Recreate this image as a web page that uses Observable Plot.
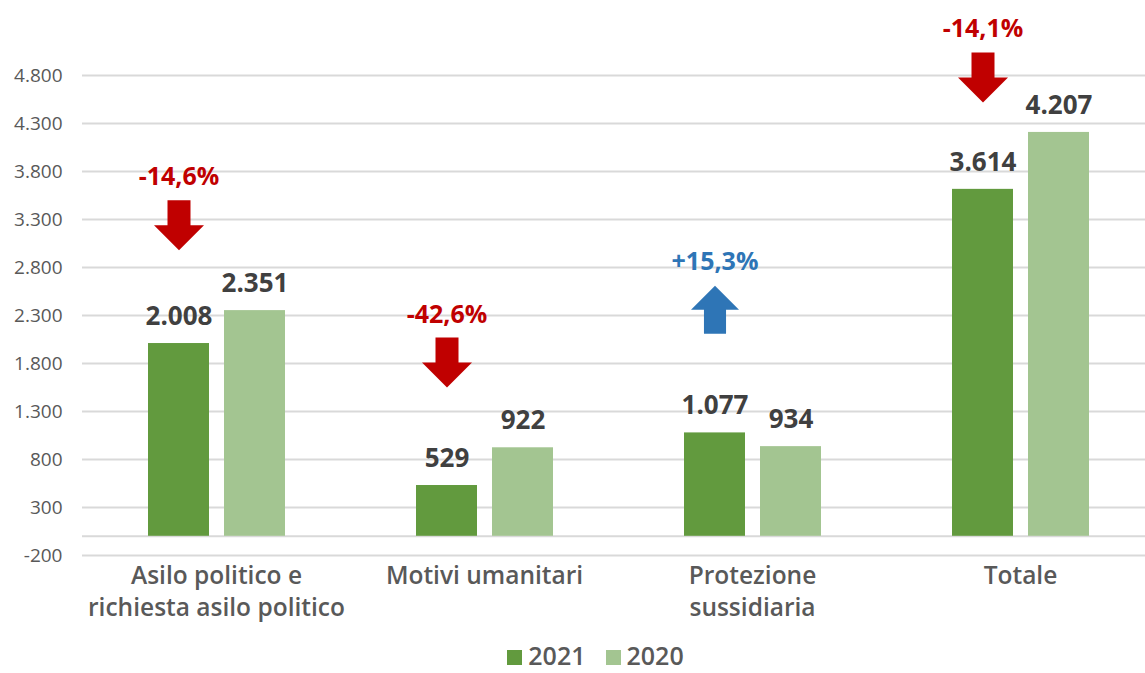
<!DOCTYPE html>
<html>
<head>
<meta charset="utf-8">
<script src="https://cdn.jsdelivr.net/npm/d3@7"></script>
<script src="https://cdn.jsdelivr.net/npm/@observablehq/plot@0.6"></script>
<style>
  html, body { margin: 0; padding: 0; background: #fff; overflow: hidden; }
  #chart svg { display: block; max-width: none !important; height: 632px !important; }
  .legend { display: flex; justify-content: center; align-items: center; gap: 20px;
    padding-left: 46px; padding-top: 6px; height: 34px; line-height: 34px;
    font-family: 'Open Sans', sans-serif; font-size: 25px; font-weight: 600; color: #595959; }
  .legend .item { display: flex; align-items: center; gap: 6px; height: 34px; }
  .legend .sw { width: 15px; height: 15px; display: inline-block; margin-top: 4px; }
</style>
</head>
<body>
<div id="chart"></div>
<script>
// ---- data ----
const categories = ["Asilo politico e\nrichiesta asilo politico", "Motivi umanitari", "Protezione\nsussidiaria", "Totale"];
const years = ["2021", "2020"];
const values2021 = [2008, 529, 1077, 3614];
const values2020 = [2351, 922, 934, 4207];
const yTicks = [-200, 300, 800, 1300, 1800, 2300, 2800, 3300, 3800, 4300, 4800];
const annotY = [3240, 1810, 2360, 4780]; // arrow anchor (value units)
const yearColors = {"2021": "#629A3E", "2020": "#A3C591"};

// ---- derived tables ----
const it = d3.formatLocale({decimal: ",", thousands: ".", grouping: [3], currency: ["€", ""], minus: "-"});
const fmtInt = it.format(",d");
const fmtPct = it.format("+.1f");

const rows = [];
categories.forEach((c, i) => {
  rows.push({category: c, year: "2021", value: values2021[i]});
  rows.push({category: c, year: "2020", value: values2020[i]});
});
const changes = categories.map((c, i) => {
  const pct = (values2021[i] - values2020[i]) / values2020[i] * 100;
  return {category: c, year: "2021", y: annotY[i], pct,
    label: fmtPct(pct) + "%", color: pct < 0 ? "#C00000" : "#2E75B6"};
});

const arrowDown = {
  draw(ctx, size) {
    const r = Math.sqrt(size / Math.PI), s = 0.46 * r;
    ctx.moveTo(-s, -r); ctx.lineTo(s, -r); ctx.lineTo(s, 0); ctx.lineTo(r, 0);
    ctx.lineTo(0, r); ctx.lineTo(-r, 0); ctx.lineTo(-s, 0); ctx.closePath();
  }
};
const arrowUp = {
  draw(ctx, size) {
    const r = Math.sqrt(size / Math.PI), s = 0.46 * r;
    ctx.moveTo(-s, r); ctx.lineTo(s, r); ctx.lineTo(s, 0); ctx.lineTo(r, 0);
    ctx.lineTo(0, -r); ctx.lineTo(-r, 0); ctx.lineTo(-s, 0); ctx.closePath();
  }
};

const chart = Plot.plot({
  width: 1154,
  height: 632,
  marginLeft: 82,
  marginRight: 0,
  marginTop: 75,
  marginBottom: 77,
  style: {fontFamily: "'Open Sans', sans-serif", background: "#fff", color: "#595959", overflow: "visible"},
  fx: {domain: categories, padding: 0, label: null, axis: null},
  x: {domain: years, paddingInner: 0.2, paddingOuter: 0.86, axis: null},
  y: {domain: [-200, 4800], label: null, axis: null},
  color: {type: "identity"},
  marks: [
    Plot.ruleY(yTicks, {stroke: "#d9d9d9", strokeWidth: 2}),
    Plot.ruleY([0], {stroke: "#d9d9d9", strokeWidth: 2}),
    Plot.axisY({ticks: yTicks, tickFormat: fmtInt, tickSize: 0, tickPadding: 20, fontSize: 19, label: null}),
    Plot.axisFx({anchor: "bottom", tickSize: 0, tickPadding: 6, fontSize: 24.5, fontWeight: 600, lineHeight: 1.3, label: null}),
    Plot.barY(rows, {fx: "category", x: "year", y: "value", fill: d => yearColors[d.year]}),
    Plot.text(rows, {fx: "category", x: "year", y: "value", text: d => fmtInt(d.value), dy: -27,
      fontSize: 26, fontWeight: 700, fill: "#404040"}),
    Plot.dot(changes.filter(d => d.pct < 0), {fx: "category", x: "year", y: "y", r: 25, symbol: arrowDown, fill: "color", stroke: null}),
    Plot.dot(changes.filter(d => d.pct >= 0), {fx: "category", x: "year", y: "y", r: 24, symbol: arrowUp, fill: "color", stroke: null}),
    Plot.text(changes, {fx: "category", x: "year", y: "y", text: "label", dy: -48,
      fontSize: 25, fontWeight: 700, fill: "color"})
  ]
});
document.getElementById("chart").appendChild(chart);

// legend
const legend = document.createElement("div");
legend.className = "legend";
years.forEach(y => {
  const item = document.createElement("span");
  item.className = "item";
  const sw = document.createElement("span");
  sw.className = "sw";
  sw.style.background = yearColors[y];
  const t = document.createElement("span");
  t.textContent = y;
  item.appendChild(sw); item.appendChild(t);
  legend.appendChild(item);
});
document.body.appendChild(legend);
</script>
</body>
</html>
